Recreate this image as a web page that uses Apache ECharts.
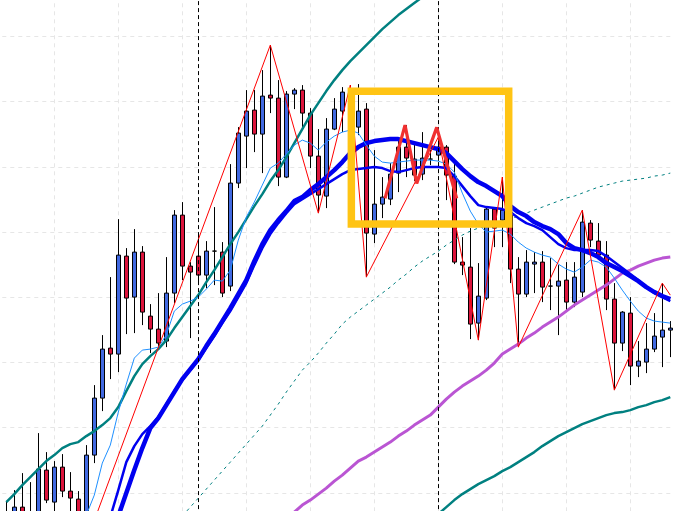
<!DOCTYPE html>
<html><head><meta charset="utf-8">
<script src="https://cdn.jsdelivr.net/npm/echarts@6/dist/echarts.min.js"></script>
<style>html,body{margin:0;padding:0;background:#fff}#c{width:673px;height:511px}</style>
</head><body><div id="c"></div>
<script>
// bar index categories (no visible labels)
const bars = Array.from({length: 84}, (_, i) => String(i));

// OHLC (price units; one grid step = 65.2)
const open  = [40,33,51,43,38,88,56,91,67,59,33,103,160,210,204,302,261,306,242,229,217,265,343,292,302,283,307,306,272,375,422,448,424,463,460,381,464,468,445,402,362,429,447,466,431,449,324,354,359,385,411,399,384,399,403,411,382,296,291,235,260,349,338,346,289,264,294,296,272,272,278,256,266,335,317,303,259,215,245,192,196,209,221,228];
const close = [28,51,38,33,89,58,91,67,60,38,103,160,209,204,303,260,306,246,229,215,265,343,292,286,283,307,307,265,375,425,447,424,462,460,381,464,468,445,402,363,429,449,466,431,447,325,354,361,384,411,400,383,400,399,411,383,296,293,234,262,349,330,348,289,264,296,296,271,272,277,256,281,336,318,303,259,215,246,192,197,209,222,228,230];
const low   = [18,23,28,23,33,55,43,61,43,28,16,95,147,179,186,224,225,233,205,211,211,255,278,220,276,270,273,261,267,370,390,406,385,445,372,380,449,429,390,345,350,428,426,423,423,281,315,340,353,366,381,377,378,393,397,358,294,283,219,218,258,311,311,275,211,261,265,256,248,223,246,251,261,311,299,248,168,207,173,181,185,206,191,201];
const high  = [57,68,85,76,125,106,97,104,86,67,113,173,223,281,339,310,329,312,254,265,301,348,356,296,325,317,351,316,394,431,468,468,488,513,478,467,470,473,450,429,440,460,471,473,474,455,408,381,395,417,433,416,426,408,421,413,395,321,330,295,351,351,381,353,301,308,306,307,300,293,296,296,348,338,335,317,275,247,261,217,235,245,275,237];

const N = null;
// moving averages / indicator lines
const tealUpper = [56,64,73,81,89,97,103,110,114,116,122,127,133,140,151,167,182,194,202,209,218,230,241,252,263,276,288,301,314,326,339,352,364,377,388,401,415,429,443,455,467,478,488,497,505,513,521,529,536,543,549,555,561,567,N,N,N,N,N,N,N,N,N,N,N,N,N,N,N,N,N,N,N,N,N,N,N,N,N,N,N,N,N,N];
const tealLower = [N,N,N,N,N,N,N,N,N,N,N,N,N,N,N,N,N,N,N,N,N,N,N,N,N,N,N,N,N,N,N,N,N,N,N,N,N,N,N,N,N,N,N,N,N,N,N,N,N,N,N,N,N,37,44,51,58,64,69,74,78,82,87,91,96,101,106,112,117,122,126,130,134,137,140,143,145,146,148,151,153,156,158,161];
const tealDashed = [N,N,N,N,N,N,N,N,N,N,N,N,N,N,N,N,N,N,N,N,N,N,42,51,60,69,78,87,96,105,114,123,132,143,154,166,177,188,196,205,215,224,234,241,247,253,259,265,271,278,284,291,297,302,307,313,318,323,327,330,332,334,337,339,342,345,348,351,354,357,360,362,365,368,371,373,375,377,378,379,380,382,383,385];
const purple = [N,N,N,N,N,N,N,N,N,N,N,N,N,N,N,N,N,N,N,N,N,N,N,N,N,N,N,N,N,N,N,N,N,N,N,40,46,53,58,64,70,77,83,90,97,101,106,111,116,122,127,133,138,143,151,159,166,172,177,182,188,195,204,209,214,220,225,231,236,241,247,253,258,263,268,273,279,285,288,292,295,298,300,301];
const blueSlow = [N,N,N,N,N,N,N,N,N,N,N,N,N,N,42,65,88,110,130,140,153,166,179,189,199,212,224,237,250,264,278,297,314,328,338,347,357,361,368,374,381,388,396,405,411,415,417,418,419,419,417,415,413,411,409,405,397,389,382,376,372,367,362,352,346,342,336,332,329,324,315,310,308,305,301,295,291,287,282,277,271,266,262,259];
const blueMid = [N,N,N,N,N,N,N,N,N,N,N,N,N,41,68,96,112,124,132,141,154,167,178,188,198,210,222,235,247,261,275,293,310,324,335,345,354,359,364,369,374,379,384,388,389,390,391,390,387,386,388,390,391,391,391,390,382,372,362,353,351,350,349,346,340,335,332,328,321,314,310,308,308,308,307,302,296,290,284,278,271,265,261,257];
const blueFast = [N,N,N,N,N,N,N,N,N,N,43,63,95,113,146,174,200,208,209,211,223,247,254,257,261,269,278,277,288,318,341,356,373,390,395,404,413,418,415,408,416,422,426,428,425,413,402,396,395,396,397,398,398,398,397,394,386,365,347,334,326,327,328,324,316,310,306,303,301,294,289,286,291,298,296,291,280,268,257,247,240,237,236,235];

// zigzag turning points
const zzBars   = [10,33,39,43,45,54,59,62,64,72,76,82,83];
const zzPrices = [16,513,345,473,281,421,218,381,211,348,168,275,263];
// highlighted pattern (thick red) and its frame
const patBars   = [47.34,49.84,51.3,53.8,56.3];
const patPrices = [359.7,433,374.7,430.7,359.7];
const boxBars   = [43.13,62.8];
const boxPrices = [334.2,466.8];
// period separators
const sepBars = [24,54];

const candles = open.map((o, i) => [o, close[i], low[i], high[i]]);
const zz = zzBars.map((b, i) => [b, zzPrices[i]]);
const pat = patBars.map((b, i) => [b, patPrices[i]]);
const box = [[boxBars[0],boxPrices[1]],[boxBars[1],boxPrices[1]],[boxBars[1],boxPrices[0]],[boxBars[0],boxPrices[0]],[boxBars[0],boxPrices[1]],[boxBars[1],boxPrices[1]]];

const gridLine = {show: true, lineStyle: {color: '#e6e6e6', width: 1, type: [4, 4]}};
const hidden = {axisLine: {show: false}, axisTick: {show: false}, axisLabel: {show: false}};

function lineSeries(data, color, width, extra) {
  return Object.assign({
    type: 'line', xAxisIndex: 0, yAxisIndex: 0, data: data,
    showSymbol: false, symbol: 'none', silent: true, clip: true,
    lineStyle: {color: color, width: width}
  }, extra || {});
}

const chart = echarts.init(document.getElementById('c'));
chart.setOption({
  animation: false,
  backgroundColor: '#ffffff',
  grid: [
    {left: 2.3, top: -28.7, width: 672, height: 586.8, outerBoundsMode: 'none', containLabel: false},
    {left: -9.7, top: -28.7, width: 704, height: 586.8, outerBoundsMode: 'none', containLabel: false}
  ],
  xAxis: [
    Object.assign({type: 'category', gridIndex: 0, data: bars, boundaryGap: true, splitLine: {show: false}}, hidden),
    Object.assign({type: 'value', gridIndex: 0, min: -0.5, max: 83.5, splitLine: {show: false}}, hidden),
    Object.assign({type: 'value', gridIndex: 1, min: 0, max: 11, interval: 1, splitLine: gridLine}, hidden)
  ],
  yAxis: [
    Object.assign({type: 'value', gridIndex: 0, min: 0, max: 586.8, interval: 65.2, splitLine: gridLine}, hidden),
    Object.assign({type: 'value', gridIndex: 1, min: 0, max: 1, splitLine: {show: false}}, hidden)
  ],
  series: [
    {
      type: 'candlestick', xAxisIndex: 0, yAxisIndex: 0, data: candles, barWidth: 4, silent: true,
      itemStyle: {color: '#4169E1', color0: '#DC143C', borderColor: '#000', borderColor0: '#000', borderColorDoji: '#000', borderWidth: 1},
      markLine: {
        silent: true, symbol: 'none', label: {show: false},
        lineStyle: {color: '#000', width: 1, type: [4, 3]},
        data: sepBars.map(b => ({xAxis: String(b)}))
      }
    },
    lineSeries(tealUpper, '#008080', 2.5),
    lineSeries(tealLower, '#008080', 2.5),
    lineSeries(tealDashed, '#008080', 1, {lineStyle: {color: '#008080', width: 1, type: [3, 4]}}),
    lineSeries(purple, '#BA55D3', 3),
    lineSeries(blueSlow, '#0000F0', 4.5),
    lineSeries(blueMid, '#0000F0', 2.5),
    lineSeries(blueFast, '#1E90FF', 1),
    lineSeries(zz, '#FF0000', 1, {xAxisIndex: 1}),
    lineSeries(pat, '#F03030', 3.2, {xAxisIndex: 1, z: 5}),
    lineSeries(box, '#FFC414', 7.5, {xAxisIndex: 1, z: 6, lineStyle: {color: '#FFC414', width: 7.5, join: 'miter', cap: 'butt'}})
  ]
});
</script>
</body></html>
